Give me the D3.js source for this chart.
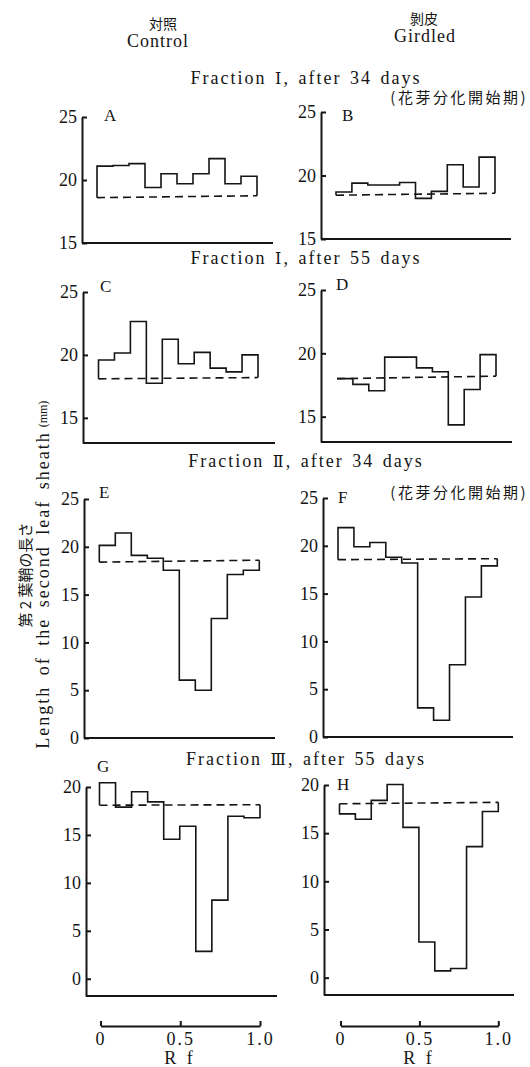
<!DOCTYPE html>
<html>
<head>
<meta charset="utf-8">
<script src="https://cdn.jsdelivr.net/npm/d3@7"></script>
<style>
body { margin: 0; background: #fff; }
svg text { font-family: "Liberation Serif", serif; fill: #151515; }
.jp { font-family: "Noto Sans CJK JP", sans-serif; }
.axis path, .axis line { stroke: #151515; stroke-width: 2; }
.axis text { font-family: "Liberation Serif", serif; font-size: 18px; fill: #151515; }
.base-line { stroke: #151515; stroke-width: 2; }
.step { fill: none; stroke: #151515; stroke-width: 1.6; }
.ctrl { fill: none; stroke: #151515; stroke-width: 1.6; stroke-dasharray: 8,5; }
.title { font-size: 18px; letter-spacing: 2px; word-spacing: 2px; }
.roman { font-family: "DejaVu Serif", "Liberation Serif", serif; font-size: 16px; }
.panel-label { font-size: 17px; }
</style>
</head>
<body>
<svg width="530" height="1067"></svg>
<script>
// Rf bin edges (10 fractions of the chromatogram)
const rfEdges = [0, 0.1, 0.2, 0.3, 0.4, 0.5, 0.6, 0.7, 0.8, 0.9, 1.0];
const rfTicks = [0, 0.5, 1.0];

// y tick labels
const ticksI = [15, 20, 25];
const ticksII = [0, 5, 10, 15, 20, 25];
const ticksIII = [0, 5, 10, 15, 20];

// Length of the second leaf sheath (mm), one value per Rf bin
const valuesA = [21.1, 21.15, 21.3, 19.4, 20.5, 19.7, 20.5, 21.7, 19.7, 20.3];
const valuesB = [18.7, 19.4, 19.25, 19.25, 19.45, 18.2, 18.75, 20.85, 19.1, 21.45];
const valuesC = [19.6, 20.15, 22.65, 17.75, 21.25, 19.3, 20.2, 18.95, 18.65, 20.0];
const valuesD = [18.0, 17.55, 17.05, 19.7, 19.7, 18.85, 18.55, 14.35, 17.15, 19.9];
const valuesE = [20.15, 21.45, 19.1, 18.8, 17.55, 6.05, 5.0, 12.5, 17.1, 17.55];
const valuesF = [21.9, 19.9, 20.35, 18.8, 18.2, 3.05, 1.75, 7.55, 14.65, 17.9];
const valuesG = [20.45, 17.9, 19.5, 18.45, 14.55, 15.9, 2.85, 8.2, 16.95, 16.8];
const valuesH = [17.0, 16.45, 18.4, 20.05, 15.6, 3.7, 0.7, 0.95, 13.6, 17.25];

// dashed control level at Rf 0 and Rf 1.0
const controlA = [18.6, 18.75];
const controlB = [18.45, 18.6];
const controlC = [18.1, 18.2];
const controlD = [18.0, 18.2];
const controlE = [18.4, 18.6];
const controlF = [18.55, 18.65];
const controlG = [18.1, 18.15];
const controlH = [18.05, 18.2];

const fractionNumerals = ['Ⅰ', 'Ⅰ', 'Ⅱ', 'Ⅲ'];
const fractionDays = [34, 55, 34, 55];

// panel placement (scan is slightly skewed, so each panel has its own frame)
const panels = [
    {label: 'A', values: valuesA, control: controlA, ticks: ticksI, yMin: 15, yMax: 25, yB: 243, yT: 117, ax: 82, x0: 97, x1: 257, xEnd: 273, lx: 104, ly: 121},
    {label: 'B', values: valuesB, control: controlB, ticks: ticksI, yMin: 15, yMax: 25, yB: 239, yT: 112, ax: 321, x0: 336, x1: 495, xEnd: 511, lx: 342, ly: 121},
    {label: 'C', values: valuesC, control: controlC, ticks: ticksI, yMin: 13, yMax: 25, yB: 443, yT: 292, ax: 83, x0: 98.5, x1: 258, xEnd: 275, lx: 100, ly: 292},
    {label: 'D', values: valuesD, control: controlD, ticks: ticksI, yMin: 13, yMax: 25, yB: 442, yT: 290, ax: 321, x0: 337, x1: 496, xEnd: 512, lx: 336, ly: 290},
    {label: 'E', values: valuesE, control: controlE, ticks: ticksII, yMin: 0, yMax: 25, yB: 738, yT: 499, ax: 84, x0: 99.3, x1: 259.3, xEnd: 275, lx: 99, ly: 498},
    {label: 'F', values: valuesF, control: controlF, ticks: ticksII, yMin: 0, yMax: 25, yB: 737, yT: 498, ax: 323, x0: 338, x1: 497.3, xEnd: 513, lx: 338, ly: 503},
    {label: 'G', values: valuesG, control: controlG, ticks: ticksIII, yMin: -1.8, yMax: 20, yB: 996, yT: 787, ax: 86, x0: 99.5, x1: 260, xEnd: 277, lx: 97, ly: 772},
    {label: 'H', values: valuesH, control: controlH, ticks: ticksIII, yMin: -1.8, yMax: 20, yB: 995, yT: 785, ax: 324, x0: 339.5, x1: 498.3, xEnd: 514, lx: 337, ly: 790}
];

const svg = d3.select('svg');

function drawPanel(p) {
    let x = d3.scaleLinear().domain([0, 1]).range([p.x0, p.x1]),
        y = d3.scaleLinear().domain([p.yMin, p.yMax]).range([p.yB, p.yT]);
    let g = svg.append('g');

    // step outline, closed down/up to the dashed control level at both ends
    let pts = [[rfEdges[0], p.control[0]]];
    p.values.forEach((v, i) => {
        pts.push([rfEdges[i], v]);
        pts.push([rfEdges[i + 1], v]);
    });
    pts.push([rfEdges[rfEdges.length - 1], p.control[1]]);
    let line = d3.line().x(d => x(d[0])).y(d => y(d[1]));
    g.append('path').attr('class', 'step').attr('d', line(pts));

    g.append('path').attr('class', 'ctrl')
        .attr('d', line([[0, p.control[0]], [1, p.control[1]]]));

    g.append('g')
        .attr('class', 'axis')
        .attr('transform', `translate(${p.ax},0)`)
        .call(d3.axisLeft(y).tickValues(p.ticks).tickSizeInner(-5).tickSizeOuter(0).tickPadding(5));

    g.append('line').attr('class', 'base-line')
        .attr('x1', p.ax).attr('x2', p.xEnd)
        .attr('y1', y(p.yMin)).attr('y2', y(p.yMin));

    g.append('text').attr('class', 'panel-label')
        .attr('x', p.lx).attr('y', p.ly).text(p.label);

    return x;
}

let xs = panels.map(drawPanel);

// Rf axes under the last row
[[xs[6], 180], [xs[7], 419]].forEach(([x, cx]) => {
    let rx = x.copy().range([x.range()[0] + 1, x.range()[1]]);
    svg.append('g')
        .attr('class', 'axis rf')
        .attr('transform', 'translate(0,1026)')
        .call(d3.axisBottom(rx).tickValues(rfTicks).tickSizeInner(-5).tickSizeOuter(0).tickPadding(6)
            .tickFormat(d => d === 0 ? '0' : d3.format('.1f')(d)))
        .selectAll('text').style('letter-spacing', '2px');
    svg.append('text').attr('x', cx).attr('y', 1064)
        .attr('text-anchor', 'middle').style('font-size', '18px').style('letter-spacing', '3px')
        .text('R f');
});

// column headers
svg.append('text').attr('class', 'jp').attr('x', 163).attr('y', 29)
    .attr('text-anchor', 'middle').style('font-size', '14px').text('対照');
svg.append('text').attr('x', 158).attr('y', 47)
    .attr('text-anchor', 'middle').style('font-size', '18px').style('letter-spacing', '1px').text('Control');
svg.append('text').attr('class', 'jp').attr('x', 424).attr('y', 24)
    .attr('text-anchor', 'middle').style('font-size', '14px').text('剝皮');
svg.append('text').attr('x', 425).attr('y', 42)
    .attr('text-anchor', 'middle').style('font-size', '18px').style('letter-spacing', '1px').text('Girdled');

// fraction titles
[84, 264, 467, 765].forEach((yy, i) => {
    let t = svg.append('text').attr('class', 'title')
        .attr('x', 306).attr('y', yy).attr('text-anchor', 'middle');
    t.append('tspan').text('Fraction ');
    t.append('tspan').attr('class', 'roman').text(fractionNumerals[i]);
    t.append('tspan').text(`, after ${fractionDays[i]} days`);
});
[103, 498].forEach(yy => {
    svg.append('text').attr('class', 'jp')
        .attr('x', 528).attr('y', yy).attr('text-anchor', 'end')
        .style('font-size', '15px').style('letter-spacing', '2.5px').text('(花芽分化開始期)');
});

// y axis title
svg.append('text').attr('transform', 'translate(49,590) rotate(-90)')
    .attr('text-anchor', 'middle').style('font-size', '18px')
    .style('letter-spacing', '2px').style('word-spacing', '4px')
    .text('Length of the second leaf sheath');
svg.append('text').attr('class', 'jp').attr('transform', 'translate(31,575) rotate(-90)')
    .attr('text-anchor', 'middle').style('font-size', '15px')
    .text('第 2 葉鞘の長さ');
svg.append('text').attr('transform', 'translate(47,414) rotate(-90)')
    .attr('text-anchor', 'middle').style('font-size', '12px')
    .text('(mm)');
</script>
</body>
</html>
